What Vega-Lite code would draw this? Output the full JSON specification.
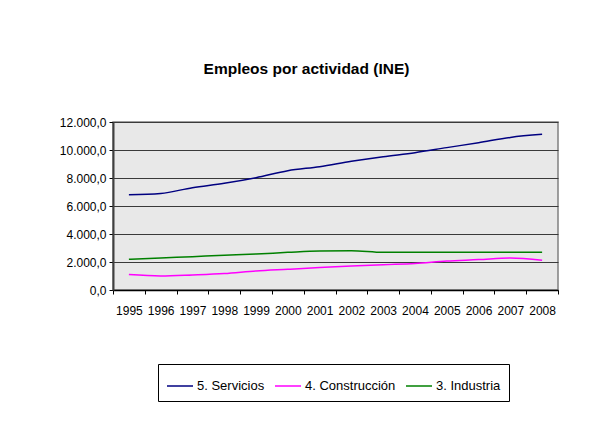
{
  "$schema": "https://vega.github.io/schema/vega-lite/v6.json",
  "autosize": "none",
  "width": 445,
  "height": 168,
  "padding": {"left": 113, "top": 122, "right": 40, "bottom": 153},
  "background": "white",
  "title": {
    "text": "Empleos por actividad (INE)",
    "anchor": "middle",
    "frame": "group",
    "dx": -29,
    "offset": 27,
    "baseline": "alphabetic",
    "font": "Liberation Sans",
    "fontSize": 15.5,
    "fontWeight": "bold",
    "color": "black"
  },
  "data": {
    "values": [
      {"year": "1995", "serie": "5. Servicios", "valor": 6810},
      {"year": "1996", "serie": "5. Servicios", "valor": 6900},
      {"year": "1997", "serie": "5. Servicios", "valor": 7310},
      {"year": "1998", "serie": "5. Servicios", "valor": 7620},
      {"year": "1999", "serie": "5. Servicios", "valor": 8020},
      {"year": "2000", "serie": "5. Servicios", "valor": 8520},
      {"year": "2001", "serie": "5. Servicios", "valor": 8810},
      {"year": "2002", "serie": "5. Servicios", "valor": 9190},
      {"year": "2003", "serie": "5. Servicios", "valor": 9520},
      {"year": "2004", "serie": "5. Servicios", "valor": 9810},
      {"year": "2005", "serie": "5. Servicios", "valor": 10170},
      {"year": "2006", "serie": "5. Servicios", "valor": 10520},
      {"year": "2007", "serie": "5. Servicios", "valor": 10900},
      {"year": "2008", "serie": "5. Servicios", "valor": 11120},
      {"year": "1995", "serie": "4. Construcción", "valor": 1100},
      {"year": "1996", "serie": "4. Construcción", "valor": 1000},
      {"year": "1997", "serie": "4. Construcción", "valor": 1070},
      {"year": "1998", "serie": "4. Construcción", "valor": 1170},
      {"year": "1999", "serie": "4. Construcción", "valor": 1360},
      {"year": "2000", "serie": "4. Construcción", "valor": 1480},
      {"year": "2001", "serie": "4. Construcción", "valor": 1600},
      {"year": "2002", "serie": "4. Construcción", "valor": 1710},
      {"year": "2003", "serie": "4. Construcción", "valor": 1810},
      {"year": "2004", "serie": "4. Construcción", "valor": 1900},
      {"year": "2005", "serie": "4. Construcción", "valor": 2070},
      {"year": "2006", "serie": "4. Construcción", "valor": 2170},
      {"year": "2007", "serie": "4. Construcción", "valor": 2290},
      {"year": "2008", "serie": "4. Construcción", "valor": 2120},
      {"year": "1995", "serie": "3. Industria", "valor": 2190},
      {"year": "1996", "serie": "3. Industria", "valor": 2290},
      {"year": "1997", "serie": "3. Industria", "valor": 2380},
      {"year": "1998", "serie": "3. Industria", "valor": 2480},
      {"year": "1999", "serie": "3. Industria", "valor": 2570},
      {"year": "2000", "serie": "3. Industria", "valor": 2690},
      {"year": "2001", "serie": "3. Industria", "valor": 2790},
      {"year": "2002", "serie": "3. Industria", "valor": 2810},
      {"year": "2003", "serie": "3. Industria", "valor": 2690},
      {"year": "2004", "serie": "3. Industria", "valor": 2690},
      {"year": "2005", "serie": "3. Industria", "valor": 2690},
      {"year": "2006", "serie": "3. Industria", "valor": 2690},
      {"year": "2007", "serie": "3. Industria", "valor": 2690},
      {"year": "2008", "serie": "3. Industria", "valor": 2690}
    ]
  },
  "mark": {"type": "line", "interpolate": "monotone", "strokeWidth": 1.5},
  "encoding": {
    "x": {
      "field": "year",
      "type": "ordinal",
      "bandPosition": 0.5,
      "scale": {"type": "band", "paddingInner": 0, "paddingOuter": 0},
      "axis": {
        "title": null,
        "labelAngle": 0,
        "tickBand": "extent",
        "domainColor": "black",
        "domainWidth": 1.5,
        "tickColor": "black",
        "tickSize": 4,
        "labelPadding": 11,
        "grid": false
      }
    },
    "y": {
      "field": "valor",
      "type": "quantitative",
      "scale": {"domain": [0, 12000], "nice": false},
      "axis": {
        "title": null,
        "values": [0, 2000, 4000, 6000, 8000, 10000, 12000],
        "format": ",.1f",
        "domainColor": "#404040",
        "domainWidth": 2,
        "tickColor": "black",
        "tickSize": 4,
        "labelPadding": 3,
        "grid": true,
        "gridColor": "#3a3a3a",
        "gridWidth": 1,
        "gridOpacity": 1
      }
    },
    "color": {
      "field": "serie",
      "type": "nominal",
      "scale": {
        "domain": ["5. Servicios", "4. Construcción", "3. Industria"],
        "range": ["#000080", "#ff00ff", "#008000"]
      },
      "legend": {
        "title": null,
        "orient": "none",
        "direction": "horizontal",
        "legendX": 45,
        "legendY": 242,
        "symbolType": "stroke",
        "symbolSize": 676,
        "symbolStrokeWidth": 1.5,
        "labelFontSize": 13,
        "labelOffset": 3,
        "columnPadding": 7,
        "padding": 8,
        "strokeColor": "black",
        "fillColor": "white"
      }
    }
  },
  "config": {
    "locale": {
      "number": {"decimal": ",", "thousands": ".", "grouping": [3], "currency": ["", " €"]}
    },
    "font": "Liberation Sans",
    "view": {"fill": "#e8e8e8", "stroke": "#808080", "strokeWidth": 1.5},
    "axis": {
      "labelFont": "Liberation Sans",
      "labelFontSize": 12,
      "labelColor": "black"
    },
    "legend": {"labelFont": "Liberation Sans", "labelColor": "black"}
  }
}
